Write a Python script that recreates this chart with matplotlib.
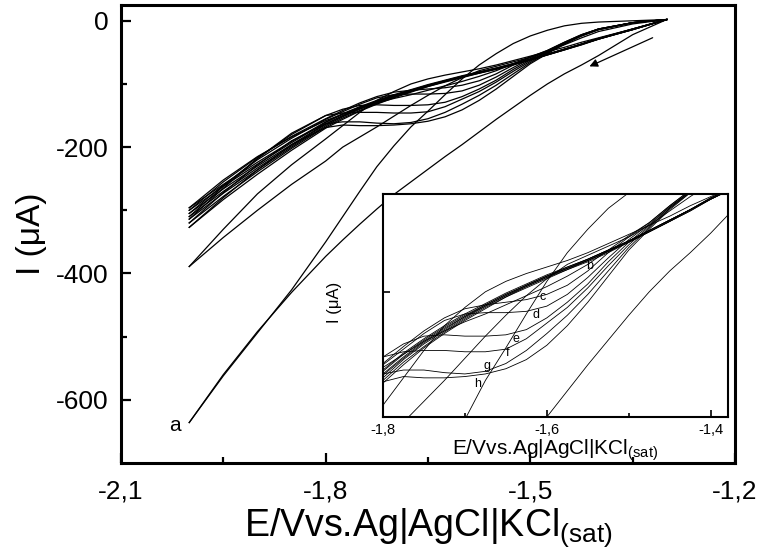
import numpy as np
import matplotlib.pyplot as plt
from matplotlib.ticker import FixedLocator

plt.rcParams["font.family"] = ["Liberation Sans", "DejaVu Sans"]
plt.rcParams["mathtext.default"] = "regular"

# =====================================================
# DATA (current in uA)
# =====================================================

E = [-2.00, -1.95, -1.90, -1.85, -1.80, -1.775, -1.75, -1.725, -1.70,
     -1.675, -1.65, -1.625, -1.60, -1.575, -1.55, -1.525, -1.50,
     -1.475, -1.45, -1.425, -1.40, -1.35, -1.30]

# cycle 1 (curve a)
a_fwd = [-636, -560, -492, -430, -373, -347, -322, -298, -275, -255, -235, -215,
         -196, -176, -156, -137, -118, -100, -84, -70, -55, -22, 2]
a_ret = [-636, -562, -494, -426, -350, -310, -270, -231, -198, -168, -143, -117,
         -92, -70, -52, -36, -24, -15, -8, -4, -2, 0, 2]

# cycle 2
c2_fwd = [-389, -343, -300, -259, -222, -200, -184, -168, -151, -134, -118, -103,
          -90, -79, -72, -65, -58, -49, -38, -27, -17, -5, 2]
c2_ret = [-389, -330, -274, -228, -187, -166, -145, -126, -112, -100, -92, -86,
          -81, -76, -70, -63, -56, -49, -42, -34, -27, -13, 2]

# later cycles (b..h in the inset), sweep towards negative potential
b_fwd = [-296, -252, -215, -184, -158, -148, -138, -130, -123, -117, -110, -103,
         -96, -88, -79, -68, -57, -47, -34, -22, -13, -3, 2]
c_fwd = [-300, -255, -216, -183, -155, -142, -130, -120, -113, -110, -108, -106,
         -102, -95, -84, -70, -58, -47, -34, -22, -13, -3, 2]
d_fwd = [-305, -260, -220, -186, -156, -144, -132, -122, -117, -116, -116, -115,
         -111, -102, -89, -74, -60, -48, -35, -23, -13, -3, 2]
e_fwd = [-310, -262, -218, -180, -150, -140, -134, -133, -134, -134, -133, -129,
         -120, -108, -94, -77, -62, -49, -35, -23, -13, -3, 2]
f_fwd = [-314, -265, -218, -178, -150, -146, -145, -145, -146, -146, -144, -136,
         -124, -112, -97, -80, -64, -50, -36, -23, -14, -3, 2]
g_fwd = [-320, -272, -228, -190, -163, -160, -160, -162, -163, -161, -155, -145,
         -132, -118, -102, -84, -66, -51, -36, -24, -14, -3, 2]
h_fwd = [-327, -280, -236, -196, -169, -165, -166, -166, -165, -163, -159, -152,
         -141, -126, -108, -88, -68, -52, -37, -24, -14, -3, 2]

# later cycles, sweep back
b_ret = [-296, -259, -224, -191, -160, -147, -136, -126, -117, -109, -101, -94,
         -87, -81, -75, -68, -61, -53, -45, -37, -29, -14, 2]
c_ret = [-300, -262, -227, -193, -161, -148, -137, -127, -118, -110, -102, -95,
         -88, -81, -75, -68, -61, -53, -45, -37, -29, -14, 2]
d_ret = [-305, -266, -230, -196, -163, -150, -138, -128, -119, -110, -102, -95,
         -88, -82, -75, -68, -61, -53, -45, -37, -28, -14, 2]
e_ret = [-310, -270, -233, -198, -164, -151, -139, -129, -119, -111, -103, -95,
         -88, -82, -76, -69, -61, -53, -45, -37, -28, -13, 2]
f_ret = [-314, -273, -236, -200, -166, -152, -140, -130, -120, -111, -103, -96,
         -89, -82, -76, -69, -62, -54, -46, -37, -28, -13, 2]
g_ret = [-320, -278, -239, -202, -168, -154, -142, -131, -121, -112, -104, -96,
         -89, -83, -76, -69, -62, -54, -46, -38, -29, -13, 2]
h_ret = [-327, -283, -243, -205, -170, -156, -143, -132, -122, -113, -104, -97,
         -90, -83, -77, -70, -62, -54, -46, -38, -29, -14, 2]

curves = [a_fwd, a_ret, c2_fwd, c2_ret,
          b_fwd, c_fwd, d_fwd, e_fwd, f_fwd, g_fwd, h_fwd,
          b_ret, c_ret, d_ret, e_ret, f_ret, g_ret, h_ret]

# letters in the inset
inset_labels = ["b", "c", "d", "e", "f", "g", "h"]
label_E = [-1.548, -1.605, -1.613, -1.638, -1.648, -1.673, -1.684]
label_I = [-80, -104, -118, -136, -147, -157, -171]

# ticks
main_xticks = [-2.1, -1.8, -1.5, -1.2]
main_xlabels = ["-2,1", "-1,8", "-1,5", "-1,2"]
main_yticks = [0, -200, -400, -600]
main_ylabels = ["0", "-200", "-400", "-600"]
inset_xticks = [-1.8, -1.6, -1.4]
inset_xlabels = ["-1,8", "-1,6", "-1,4"]

# =====================================================
# MAIN PLOT
# =====================================================

fig = plt.figure(figsize=(7.6, 5.48), dpi=100)
ax = fig.add_axes([0.1592, 0.1551, 0.8079, 0.8358])

for c in curves:
    ax.plot(E, c, color="black", lw=0.9)

ax.set_xlim(-2.1, -1.2)
ax.set_ylim(-700, 25)

ax.set_xticks(main_xticks)
ax.set_xticklabels(main_xlabels)
ax.set_yticks(main_yticks)
ax.set_yticklabels(main_ylabels)
ax.xaxis.set_minor_locator(FixedLocator([-1.95, -1.65, -1.35]))
ax.yaxis.set_minor_locator(FixedLocator([-100, -300, -500]))
ax.tick_params(which="both", direction="in", width=1.6, top=False, right=False)
ax.tick_params(which="major", length=7, labelsize=19)
ax.tick_params(which="minor", length=4)
ax.tick_params(axis="x", pad=12)
ax.tick_params(axis="y", pad=9)
for s in ax.spines.values():
    s.set_linewidth(2.2)

ax.set_xlabel("E/Vvs.Ag|AgCl|KCl$_{(sat)}$", fontsize=27, labelpad=2)
ax.set_ylabel("I (\u03bcA)", fontsize=24)
ax.yaxis.set_label_coords(-0.12, 0.5)

ax.text(-2.013, -641, "a", fontsize=15, ha="right", va="center")

# sweep direction arrow
ax.annotate("", xy=(-1.417, -74), xytext=(-1.317, -25),
            arrowprops=dict(arrowstyle="-|>", color="black", lw=0.9,
                            mutation_scale=12))

# =====================================================
# INSET
# =====================================================

ax_in = fig.add_axes([0.5039, 0.2391, 0.4539, 0.4069])
ax_in.set_facecolor("white")

for c in curves:
    ax_in.plot(E, c, color="black", lw=0.6)

for lab, x, y in zip(inset_labels, label_E, label_I):
    ax_in.text(x, y, lab, fontsize=9, ha="center", va="center")

ax_in.set_xlim(-1.8, -1.379)
ax_in.set_ylim(-196, -25)
ax_in.set_xticks(inset_xticks)
ax_in.set_xticklabels(inset_xlabels)
ax_in.xaxis.set_minor_locator(FixedLocator([-1.7, -1.5]))
ax_in.set_yticks([-100])
ax_in.set_yticklabels([])
ax_in.tick_params(which="both", direction="in", width=1.2, top=False, right=False)
ax_in.tick_params(which="major", length=5, labelsize=10.5, pad=4)
ax_in.tick_params(which="minor", length=3)
for s in ax_in.spines.values():
    s.set_linewidth(1.5)

ax_in.set_xlabel("E/Vvs.Ag|AgCl|KCl$_{(sat)}$", fontsize=15, labelpad=1)
ax_in.set_ylabel("I (\u03bcA)", fontsize=12)
ax_in.yaxis.set_label_coords(-0.119, 0.516)

plt.savefig("out.png", dpi=100)
